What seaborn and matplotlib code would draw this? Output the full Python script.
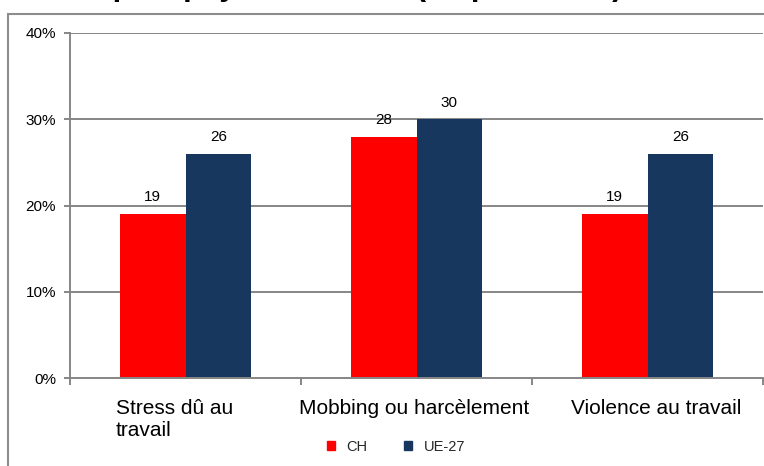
import matplotlib
matplotlib.use("Agg")
import matplotlib.pyplot as plt
import matplotlib.transforms as mtrans
import seaborn as sns
import pandas as pd
from matplotlib.patches import Rectangle
from matplotlib.ticker import FuncFormatter

categories = ["Stress dû au\ntravail", "Mobbing ou harcèlement", "Violence au travail"]
series_names = ["CH", "UE-27"]
ch_values = [19, 28, 19]
ue_values = [26, 30, 26]
y_ticks = [0, 10, 20, 30, 40]
title_text = "Risques psychosociaux (en pour cent)"

colors = {"CH": "#FF0000", "UE-27": "#17375E"}
grid_color = "#868686"

rows = []
for c, v in zip(categories, ch_values):
    rows.append({"cat": c, "series": "CH", "val": v})
for c, v in zip(categories, ue_values):
    rows.append({"cat": c, "series": "UE-27", "val": v})
df = pd.DataFrame(rows)

sns.set_theme(style="white")
plt.rcParams["font.family"] = ["Liberation Sans", "DejaVu Sans"]

fig = plt.figure(figsize=(7.64, 4.66), dpi=100)
ax = fig.add_axes([70 / 764, 1 - 378 / 466, 693 / 764, 345 / 466])

sns.barplot(data=df, x="cat", y="val", hue="series", hue_order=series_names,
            order=categories, palette=colors, width=0.568, linewidth=0,
            saturation=1, ax=ax, legend=False, errorbar=None)

ax.set_xlim(-0.5, 2.5)
ax.set_ylim(0, 40)
ax.set_yticks(y_ticks)
ax.yaxis.set_major_formatter(FuncFormatter(lambda v, p: f"{int(v)}%"))
ax.set_xlabel("")
ax.set_ylabel("")

for y in y_ticks[1:]:
    ax.axhline(y, color=grid_color, lw=1.4, zorder=0)

for s in ["top", "right"]:
    ax.spines[s].set_visible(False)
for s in ["left", "bottom"]:
    ax.spines[s].set_color(grid_color)
    ax.spines[s].set_linewidth(1.4)

ax.tick_params(axis="y", which="major", left=True, length=4, width=1.4,
               color=grid_color, pad=6, labelsize=11, labelcolor="black")
ax.set_xticks([0, 1, 2])
ax.set_xticklabels(categories, fontsize=15, multialignment="left")
ax.tick_params(axis="x", which="major", bottom=False, pad=9, labelcolor="black")
ax.set_xticks([-0.5, 0.5, 1.5, 2.5], minor=True)
ax.tick_params(axis="x", which="minor", bottom=True, length=5, width=1.4,
               color=grid_color)

# Excel-like horizontal placement of wrapped category labels
offsets_px = [-11, -2, 9]
for lab, dx in zip(ax.get_xticklabels(), offsets_px):
    lab.set_transform(lab.get_transform() +
                      mtrans.ScaledTranslation(dx / 100, 0, fig.dpi_scale_trans))

for cont in ax.containers:
    ax.bar_label(cont, labels=[f"{int(v)}" for v in cont.datavalues],
                 padding=7, fontsize=11, color="black")

handles = [Rectangle((0, 0), 1, 1, color=colors[n]) for n in series_names]
fig.legend(handles, series_names, loc="center", ncol=2, frameon=False,
           bbox_to_anchor=(396 / 764, 1 - 447 / 466), fontsize=10.5,
           handlelength=0.55, handleheight=0.55, handletextpad=0.8,
           columnspacing=2.5)

# outer frame
fig.patches.append(Rectangle((8 / 764, -0.05), 1.1, 1 - 14 / 466 + 0.05,
                             transform=fig.transFigure, fill=False,
                             edgecolor="#8C8C8C", lw=1.5, zorder=0))

# title, cut off at the top edge as in the reference
fig.text(54 / 764, 1 + 5 / 466, title_text, fontsize=22.3, fontweight="bold",
         ha="left", va="baseline", color="black")

fig.savefig("out.png", dpi=100)
